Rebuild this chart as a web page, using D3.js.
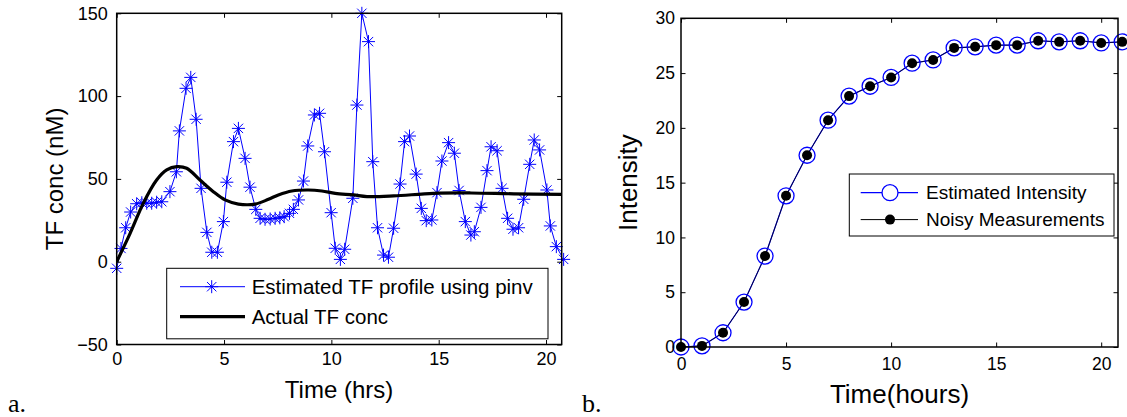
<!DOCTYPE html>
<html>
<head>
<meta charset="utf-8">
<script src="https://cdn.jsdelivr.net/npm/d3@7"></script>
<style>
  html, body { margin: 0; padding: 0; background: #fff; }
  svg { display: block; }
  text { font-family: Arial, "Liberation Sans", sans-serif; fill: #000; }
</style>
</head>
<body>
<svg id="fig" width="1127" height="417"></svg>
<script>
// ---- Panel a: TF concentration ----
const tfTime = [0, 0.2, 0.42, 0.65, 0.93, 1.17, 1.4, 1.63, 1.86, 2.1, 2.48, 2.78, 2.92, 3.23, 3.45, 3.7, 3.93, 4.2, 4.43, 4.69, 4.97, 5.13, 5.44, 5.67, 5.98, 6.21, 6.48, 6.68, 6.91, 7.15, 7.38, 7.6, 7.8, 8.05, 8.23, 8.47, 8.7, 8.9, 9.21, 9.45, 9.68, 9.99, 10.18, 10.42, 10.62, 11.0, 11.19, 11.42, 11.73, 11.93, 12.15, 12.43, 12.66, 12.9, 13.2, 13.41, 13.64, 13.95, 14.19, 14.42, 14.68, 14.92, 15.15, 15.46, 15.73, 15.95, 16.24, 16.5, 16.66, 16.97, 17.25, 17.44, 17.72, 17.95, 18.21, 18.46, 18.72, 18.96, 19.24, 19.45, 19.7, 20.04, 20.2, 20.48, 20.82];
const tfEstimated = [-4, 8, 20.5, 30, 35, 35.6, 35.3, 35.3, 35.9, 36.2, 42.3, 54.3, 79, 104.7, 111.3, 86, 44.3, 17.7, 5.7, 5.7, 24.2, 48, 72.5, 80.5, 62.4, 45, 31.6, 26.2, 25.6, 25.8, 26.2, 26.5, 27.2, 29.2, 31.6, 37.3, 48.7, 69.9, 88.6, 89.6, 66.4, 29.6, 8.1, 1.4, 7.5, 38.3, 94.6, 150, 132.9, 60.4, 20.5, 4, 2.7, 20.2, 46.9, 72.5, 75.9, 52.9, 32.2, 24.8, 25.2, 41.7, 60.8, 71.9, 65.5, 43, 24.2, 16.1, 18.1, 32.8, 55, 69.4, 67, 44.3, 26.2, 19.6, 20.5, 37.7, 58.8, 73.5, 67.5, 43.3, 21.6, 9.1, 1.4];
const actualTime = [0, 0.62, 1.24, 1.86, 2.33, 2.8, 3.26, 3.88, 4.5, 5.05, 5.67, 6.45, 7.07, 7.53, 8.16, 8.93, 9.56, 10.18, 11.03, 11.66, 12.9, 14.76, 16.5, 18.5, 20.73];
const actualConc = [0, 17, 35.3, 49.3, 55.4, 57.4, 56.4, 49.3, 42.3, 37.3, 34.8, 34.8, 37.7, 40.3, 42.7, 43.3, 42.7, 41.3, 40.3, 39.3, 39.7, 41.3, 41.5, 41, 40.7];
const tfXTicks = [0, 5, 10, 15, 20];
const tfYTicks = [-50, 0, 50, 100, 150];
const tfLegend = ["Estimated TF profile using pinv", "Actual TF conc"];

// ---- Panel b: intensity ----
const hours = [0, 1, 2, 3, 4, 5, 6, 7, 8, 9, 10, 11, 12, 13, 14, 15, 16, 17, 18, 19, 20, 21];
const estimatedIntensity = [0, 0.1, 1.3, 4.1, 8.3, 13.8, 17.5, 20.7, 22.9, 23.8, 24.6, 25.9, 26.2, 27.3, 27.4, 27.55, 27.55, 27.95, 27.85, 27.95, 27.75, 27.85];
const noisyMeasurements = [0, 0.1, 1.3, 4.1, 8.3, 13.8, 17.5, 20.7, 22.9, 23.8, 24.6, 25.9, 26.2, 27.3, 27.4, 27.55, 27.55, 27.95, 27.85, 27.95, 27.75, 27.85];
const intXTicks = [0, 5, 10, 15, 20];
const intYTicks = [0, 5, 10, 15, 20, 25, 30];
const intLegend = ["Estimated Intensity", "Noisy Measurements"];

const svg = d3.select("#fig");
const TICK = 4.5;

// asterisk marker (+ and x overlaid), centred on 0,0
function asteriskPath(s) {
  const d = s * 0.72;
  return `M${-s},0H${s}M0,${-s}V${s}M${-d},${-d}L${d},${d}M${-d},${d}L${d},${-d}`;
}

// boxed axes with inward ticks on all four sides
function drawAxes(g, x, y, xTicks, yTicks, opt) {
  const [x0, x1] = x.range();
  const [y0, y1] = y.range(); // y0 bottom, y1 top
  const bottom = g.append("g").attr("transform", `translate(0,${y0})`)
    .call(d3.axisBottom(x).tickValues(xTicks).tickSize(-TICK).tickPadding(opt.xPad).tickFormat(d3.format("d")));
  const top = g.append("g").attr("transform", `translate(0,${y1})`)
    .call(d3.axisTop(x).tickValues(xTicks).tickSize(-TICK).tickFormat(""));
  const left = g.append("g").attr("transform", `translate(${x0},0)`)
    .call(d3.axisLeft(y).tickValues(yTicks).tickSize(-TICK).tickPadding(opt.yPad).tickFormat(d3.format("d")));
  const right = g.append("g").attr("transform", `translate(${x1},0)`)
    .call(d3.axisRight(y).tickValues(yTicks).tickSize(-TICK).tickFormat(""));
  [bottom, top, left, right].forEach(a => {
    a.select(".domain").remove();
    a.selectAll(".tick line").attr("stroke", "#000").attr("stroke-width", 1);
    a.selectAll("text").style("font-size", opt.tickFont + "px")
      .style("font-family", 'Arial, "Liberation Sans", sans-serif').attr("fill", "#000");
  });
  bottom.selectAll("text").attr("dy", "0.71em");
  g.append("rect")
    .attr("x", x0).attr("y", y1).attr("width", x1 - x0).attr("height", y0 - y1)
    .attr("fill", "none").attr("stroke", "#000").attr("stroke-width", 1.5);
}

// ================= Panel a =================
{
  const x = d3.scaleLinear().domain([0, 20.73]).range([116.7, 561.7]);
  const y = d3.scaleLinear().domain([-50, 150]).range([344.5, 13.3]);
  const g = svg.append("g");

  const clipId = "clipA";
  g.append("clipPath").attr("id", clipId).append("rect")
    .attr("x", 116.7).attr("y", 13.3).attr("width", 445).attr("height", 331.2);

  const est = tfTime.map((t, i) => [t, tfEstimated[i]]);
  const act = actualTime.map((t, i) => [t, actualConc[i]]);

  g.append("path").datum(est)
    .attr("d", d3.line().x(d => x(d[0])).y(d => y(d[1])))
    .attr("fill", "none").attr("stroke", "#0000ff").attr("stroke-width", 1)
    .attr("clip-path", `url(#${clipId})`);
  g.append("g").selectAll("path").data(est).join("path")
    .attr("transform", d => `translate(${x(d[0])},${y(d[1])})`)
    .attr("d", asteriskPath(6.5))
    .attr("fill", "none").attr("stroke", "#0000ff").attr("stroke-width", 1);

  g.append("path").datum(act)
    .attr("d", d3.line().curve(d3.curveCatmullRom).x(d => x(d[0])).y(d => y(d[1])))
    .attr("fill", "none").attr("stroke", "#000").attr("stroke-width", 3.2)
    .attr("clip-path", `url(#${clipId})`);

  drawAxes(g, x, y, tfXTicks, tfYTicks, { xPad: 8, yPad: 9, tickFont: 18 });

  // legend
  const lg = g.append("g");
  lg.append("rect").attr("x", 166.7).attr("y", 268.3).attr("width", 381.3).attr("height", 70.5)
    .attr("fill", "#fff").attr("stroke", "#000").attr("stroke-width", 1);
  const rows = [286.7, 316.7];
  lg.append("line").attr("x1", 180).attr("x2", 245).attr("y1", rows[0]).attr("y2", rows[0])
    .attr("stroke", "#0000ff").attr("stroke-width", 1);
  lg.append("path").attr("transform", `translate(211.7,${rows[0]})`).attr("d", asteriskPath(6.5))
    .attr("fill", "none").attr("stroke", "#0000ff").attr("stroke-width", 1);
  lg.append("line").attr("x1", 180).attr("x2", 245).attr("y1", rows[1]).attr("y2", rows[1])
    .attr("stroke", "#000").attr("stroke-width", 3.2);
  tfLegend.forEach((s, i) => {
    lg.append("text").attr("x", 251.7).attr("y", rows[i]).attr("dy", "0.35em")
      .style("font-size", "20.5px").text(s);
  });

  g.append("text").attr("x", 339).attr("y", 398).attr("text-anchor", "middle")
    .style("font-size", "24px").text("Time (hrs)");
  g.append("text").attr("transform", "translate(63,178.9) rotate(-90)").attr("text-anchor", "middle")
    .style("font-size", "24px").text("TF conc (nM)");
  g.append("text").attr("x", 8).attr("y", 412)
    .style("font-family", '"Liberation Serif", "Times New Roman", serif').style("font-size", "26px").text("a.");
}

// ================= Panel b =================
{
  const x = d3.scaleLinear().domain([0, 20.8]).range([681, 1118]);
  const y = d3.scaleLinear().domain([0, 30]).range([347, 18.3]);
  const g = svg.append("g");

  const est = hours.map((t, i) => [t, estimatedIntensity[i]]);
  const noisy = hours.map((t, i) => [t, noisyMeasurements[i]]);
  const line = d3.line().x(d => x(d[0])).y(d => y(d[1]));

  g.append("path").datum(est).attr("d", line)
    .attr("fill", "none").attr("stroke", "#0000ff").attr("stroke-width", 1.2);
  g.append("path").datum(noisy).attr("d", line)
    .attr("fill", "none").attr("stroke", "#000").attr("stroke-width", 1).attr("stroke-opacity", 0.75);

  g.append("g").selectAll("circle").data(est).join("circle")
    .attr("cx", d => x(d[0])).attr("cy", d => y(d[1])).attr("r", 8)
    .attr("fill", "none").attr("stroke", "#0000ff").attr("stroke-width", 1.3);
  g.append("g").selectAll("circle").data(noisy).join("circle")
    .attr("cx", d => x(d[0])).attr("cy", d => y(d[1])).attr("r", 5)
    .attr("fill", "#000");

  drawAxes(g, x, y, intXTicks, intYTicks, { xPad: 11, yPad: 6, tickFont: 17.5 });

  const lg = g.append("g");
  lg.append("rect").attr("x", 849.3).attr("y", 174).attr("width", 264.7).attr("height", 62)
    .attr("fill", "#fff").attr("stroke", "#000").attr("stroke-width", 1);
  const rows = [192.7, 219.6];
  lg.append("line").attr("x1", 860.7).attr("x2", 918).attr("y1", rows[0]).attr("y2", rows[0])
    .attr("stroke", "#0000ff").attr("stroke-width", 1.2);
  lg.append("circle").attr("cx", 890).attr("cy", rows[0]).attr("r", 8)
    .attr("fill", "#fff").attr("stroke", "#0000ff").attr("stroke-width", 1.3);
  lg.append("line").attr("x1", 860.7).attr("x2", 918).attr("y1", rows[1]).attr("y2", rows[1])
    .attr("stroke", "#000").attr("stroke-width", 1);
  lg.append("circle").attr("cx", 890).attr("cy", rows[1]).attr("r", 5).attr("fill", "#000");
  intLegend.forEach((s, i) => {
    lg.append("text").attr("x", 926).attr("y", rows[i]).attr("dy", "0.35em")
      .style("font-size", "19px").text(s);
  });

  g.append("text").attr("x", 899.5).attr("y", 403).attr("text-anchor", "middle")
    .style("font-size", "26px").text("Time(hours)");
  g.append("text").attr("transform", "translate(637,182.6) rotate(-90)").attr("text-anchor", "middle")
    .style("font-size", "26px").text("Intensity");
  g.append("text").attr("x", 582).attr("y", 412)
    .style("font-family", '"Liberation Serif", "Times New Roman", serif').style("font-size", "26px").text("b.");
}
</script>
</body>
</html>
